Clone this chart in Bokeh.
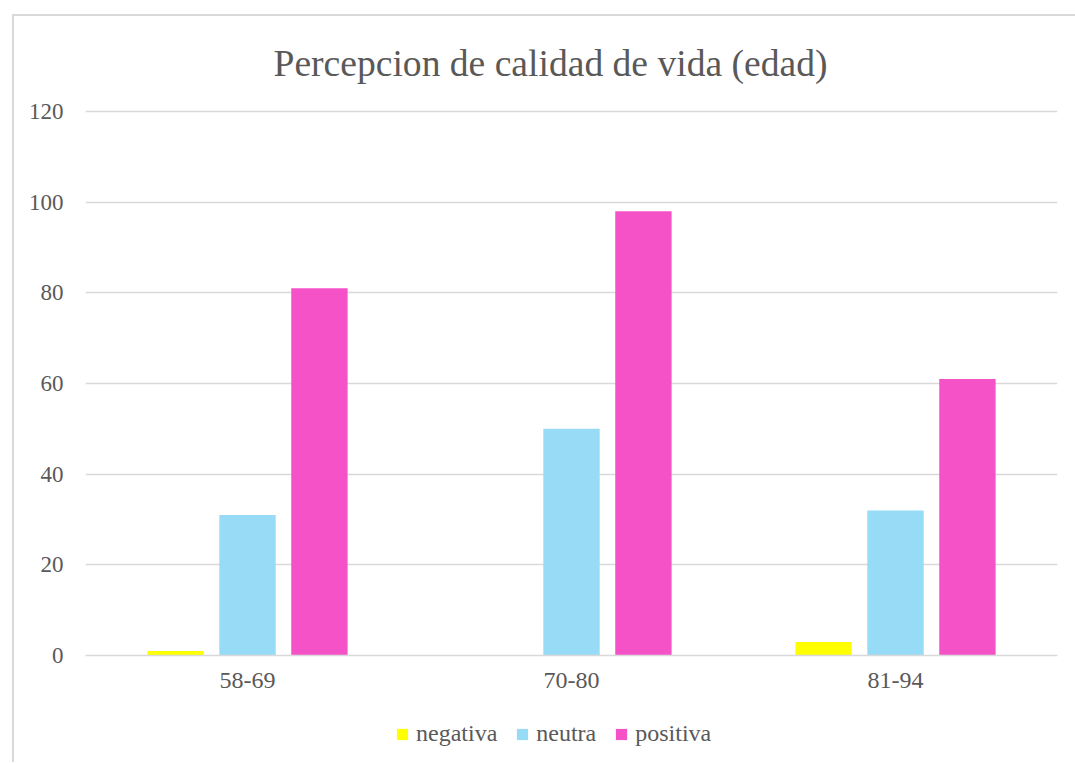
from bokeh.plotting import figure
from bokeh.layouts import column
from bokeh.models import ColumnDataSource, FactorRange, Range1d, Legend, LegendItem, FixedTicker
from bokeh.transform import dodge
from bokeh.embed import file_html
from bokeh.resources import INLINE

categories = ["58-69", "70-80", "81-94"]
negativa = [1, 0, 3]
neutra = [31, 50, 32]
positiva = [81, 98, 61]
series_names = ["negativa", "neutra", "positiva"]
colors = ["#FFFF00", "#98DBF6", "#F552C8"]
y_ticks = [0, 20, 40, 60, 80, 100, 120]

FONT = "Liberation Serif"
TXT = "#595959"
GRID = "#D9D9D9"

src = ColumnDataSource(dict(cat=categories, negativa=negativa, neutra=neutra, positiva=positiva))

p = figure(
    width=1061, height=702,
    x_range=FactorRange(factors=categories, range_padding=0),
    y_range=Range1d(0, 121.32),
    output_backend="svg", toolbar_location=None,
    title="Percepcion de calidad de vida (edad)",
    min_border_left=71, min_border_right=18, min_border_top=89, min_border_bottom=63,
)
p.outline_line_color = None
p.background_fill_color = "white"
p.border_fill_color = "white"

p.title.text_font = FONT
p.title.text_font_size = "37.6px"
p.title.text_font_style = "normal"
p.title.text_color = TXT
p.title.align = "left"
p.title.offset = 188
p.title.standoff = 43

offsets = [-0.222, 0.0, 0.222]
for name, col, off in zip(series_names, colors, offsets):
    p.vbar(x=dodge("cat", off, range=p.x_range), top=name, width=0.174, source=src,
           fill_color=col, line_color=None)

p.xgrid.grid_line_color = None
p.ygrid.grid_line_color = GRID
p.ygrid.grid_line_width = 1.3

p.yaxis.ticker = FixedTicker(ticks=y_ticks)
p.yaxis.axis_line_color = None
p.yaxis.major_tick_line_color = None
p.yaxis.minor_tick_line_color = None
p.yaxis.major_label_text_font = FONT
p.yaxis.major_label_text_font_size = "23px"
p.yaxis.major_label_text_color = TXT
p.yaxis.major_label_standoff = 16

p.xaxis.axis_line_color = GRID
p.xaxis.axis_line_width = 1.3
p.xaxis.major_tick_line_color = None
p.xaxis.minor_tick_line_color = None
p.xaxis.major_label_text_font = FONT
p.xaxis.major_label_text_font_size = "24px"
p.xaxis.major_label_text_color = TXT
p.xaxis.major_label_standoff = 11

# legend strip below the chart (its frame is aligned with the chart frame by the column)
lf = figure(width=1061, height=44, x_range=Range1d(0, 1), y_range=Range1d(0, 1),
            x_axis_type=None, y_axis_type=None, output_backend="svg", toolbar_location=None,
            min_border_left=0, min_border_right=0, min_border_top=0, min_border_bottom=0)
lf.outline_line_color = None
lf.background_fill_color = "white"
lf.border_fill_color = "white"
lf.xgrid.grid_line_color = None
lf.ygrid.grid_line_color = None
swatch = ColumnDataSource(dict(x=[0.5], top=[0]))
leg_renderers = [lf.vbar(x="x", top="top", bottom=0, width=0.0, source=swatch, fill_color=c, line_color=None)
                 for c in colors]
legend = Legend(
    items=[LegendItem(label=n, renderers=[r]) for n, r in zip(series_names, leg_renderers)],
    orientation="horizontal", location=(310, 15),
    label_text_font=FONT, label_text_font_size="24px", label_text_color=TXT,
    glyph_width=14, glyph_height=14, spacing=18, label_standoff=7,
    border_line_color=None, background_fill_alpha=0, padding=3, margin=0,
)
lf.add_layout(legend, "center")

layout = column(p, lf, margin=(14, 0, 0, 12),
                styles={"border-left": "2px solid #D9D9D9", "border-top": "2px solid #D9D9D9"})

open("out.html", "w").write(file_html(layout, INLINE))
